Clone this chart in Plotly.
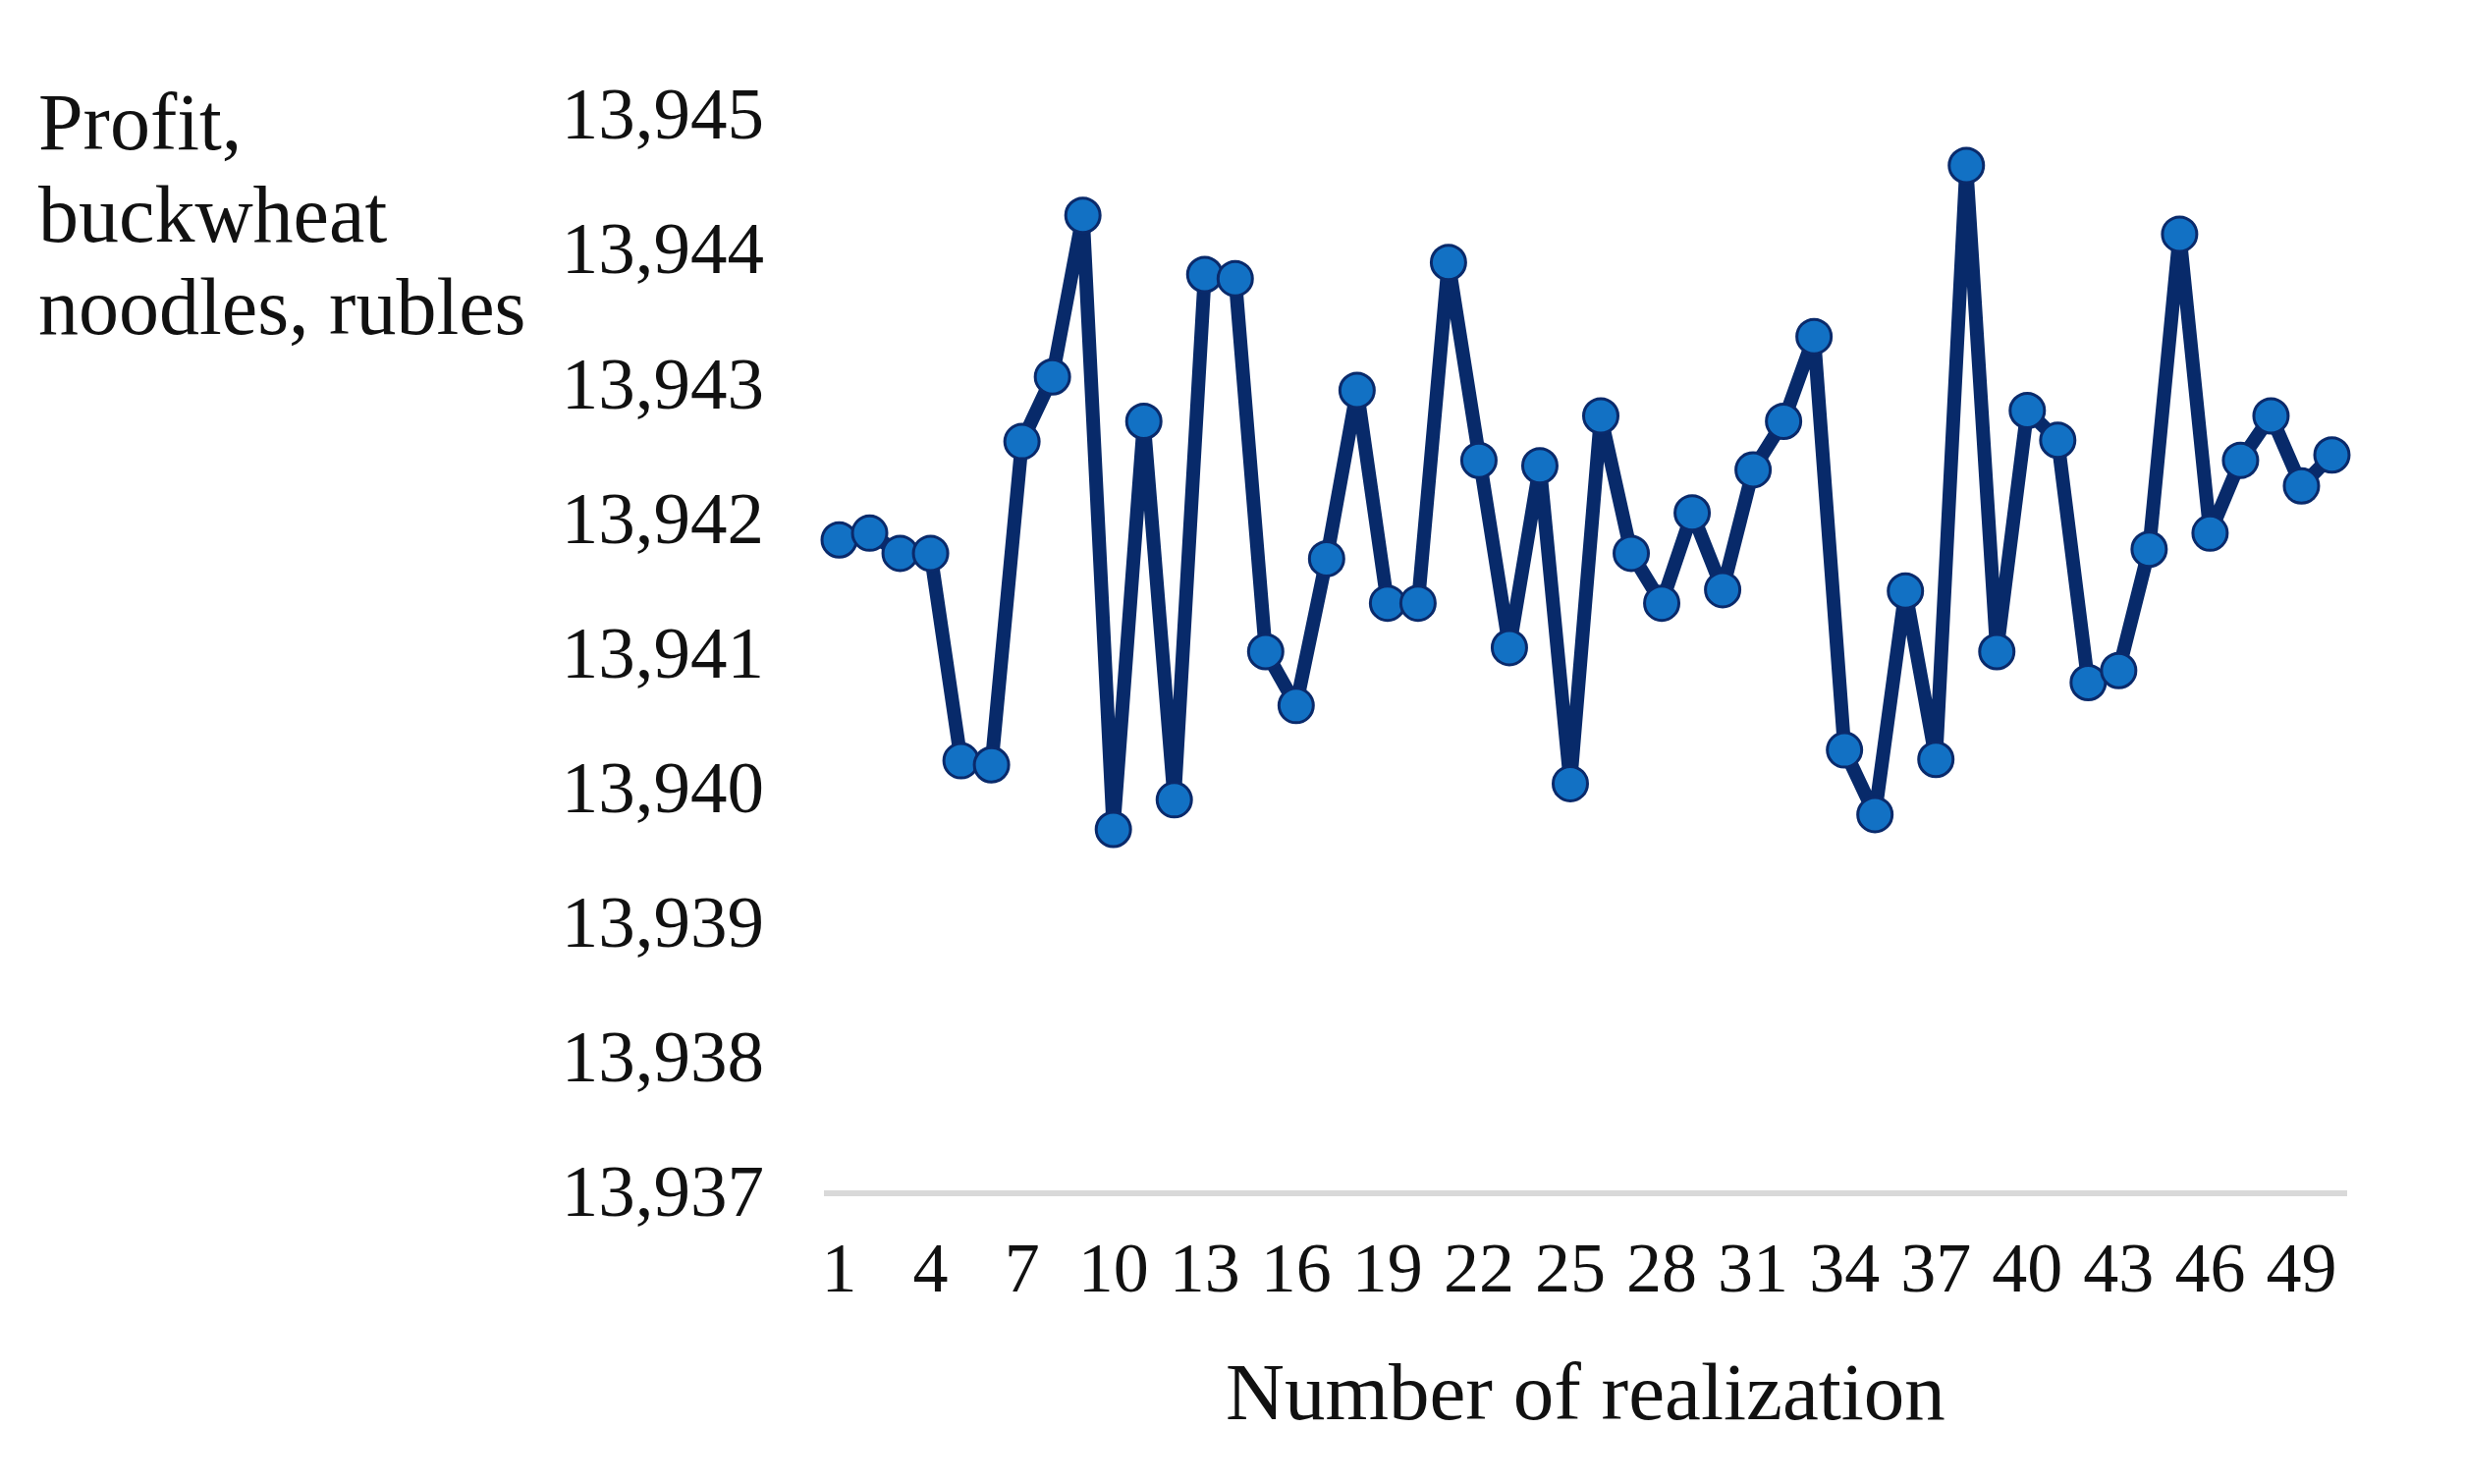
import plotly.graph_objects as go

realization = [1, 2, 3, 4, 5, 6, 7, 8, 9, 10, 11, 12, 13, 14, 15, 16, 17, 18, 19, 20,
               21, 22, 23, 24, 25, 26, 27, 28, 29, 30, 31, 32, 33, 34, 35, 36, 37, 38, 39, 40,
               41, 42, 43, 44, 45, 46, 47, 48, 49, 50]
profit = [13941.83, 13941.88, 13941.73, 13941.73, 13940.19, 13940.16, 13942.56, 13943.04, 13944.24, 13939.68,
          13942.71, 13939.90, 13943.80, 13943.77, 13941.00, 13940.60, 13941.69, 13942.94, 13941.36, 13941.36,
          13943.89, 13942.42, 13941.03, 13942.38, 13940.02, 13942.75, 13941.73, 13941.36, 13942.03, 13941.46,
          13942.35, 13942.71, 13943.34, 13940.27, 13939.79, 13941.45, 13940.20, 13944.61, 13941.00, 13942.79,
          13942.57, 13940.77, 13940.86, 13941.76, 13944.10, 13941.88, 13942.42, 13942.75, 13942.23, 13942.46]
x_tickvals = [1, 4, 7, 10, 13, 16, 19, 22, 25, 28, 31, 34, 37, 40, 43, 46, 49]
y_tickvals = [13937, 13938, 13939, 13940, 13941, 13942, 13943, 13944, 13945]
y_title_lines = ["Profit,", "buckwheat", "noodles, rubles"]
x_title = "Number of realization"

FONT = "Liberation Serif, Times New Roman, serif"
TXT = "#111111"

fig = go.Figure()
fig.add_trace(go.Scatter(
    x=realization, y=profit, mode="lines+markers",
    line=dict(color="#082a6a", width=14),
    marker=dict(size=35, color="#1271c4", line=dict(color="#0a2a6b", width=3)),
    showlegend=False, cliponaxis=False,
))

annotations = []
line_y = [0.9909, 0.9052, 0.8204]
for txt, yy in zip(y_title_lines, line_y):
    annotations.append(dict(text=txt, xref="paper", yref="paper", x=-0.517, y=yy,
                            xanchor="left", yanchor="middle", align="left", showarrow=False,
                            font=dict(family=FONT, size=82, color=TXT)))
annotations.append(dict(text=x_title, xref="paper", yref="paper", x=0.5, y=-0.187,
                        xanchor="center", yanchor="middle", showarrow=False,
                        font=dict(family=FONT, size=83, color=TXT)))

fig.update_layout(
    width=2510, height=1511,
    margin=dict(l=831, r=128, t=107, b=307),
    paper_bgcolor="white", plot_bgcolor="white",
    font=dict(family=FONT, size=72, color=TXT),
    xaxis=dict(
        range=[0.5, 50.5], tickmode="array", tickvals=x_tickvals,
        ticktext=[str(v) for v in x_tickvals], tickangle=0,
        showgrid=False, zeroline=False, showline=True,
        linecolor="#d9d9d9", linewidth=6, ticks="",
        ticklabelstandoff=11,
        tickfont=dict(family=FONT, size=72, color=TXT),
    ),
    yaxis=dict(
        range=[13937, 13945], tickmode="array", tickvals=y_tickvals,
        tickformat=",d", showgrid=False, zeroline=False, showline=False,
        ticks="", ticklabelstandoff=60,
        tickfont=dict(family=FONT, size=75, color=TXT),
    ),
    separators=".,",
    annotations=annotations,
)

fig.write_html("out.html")
